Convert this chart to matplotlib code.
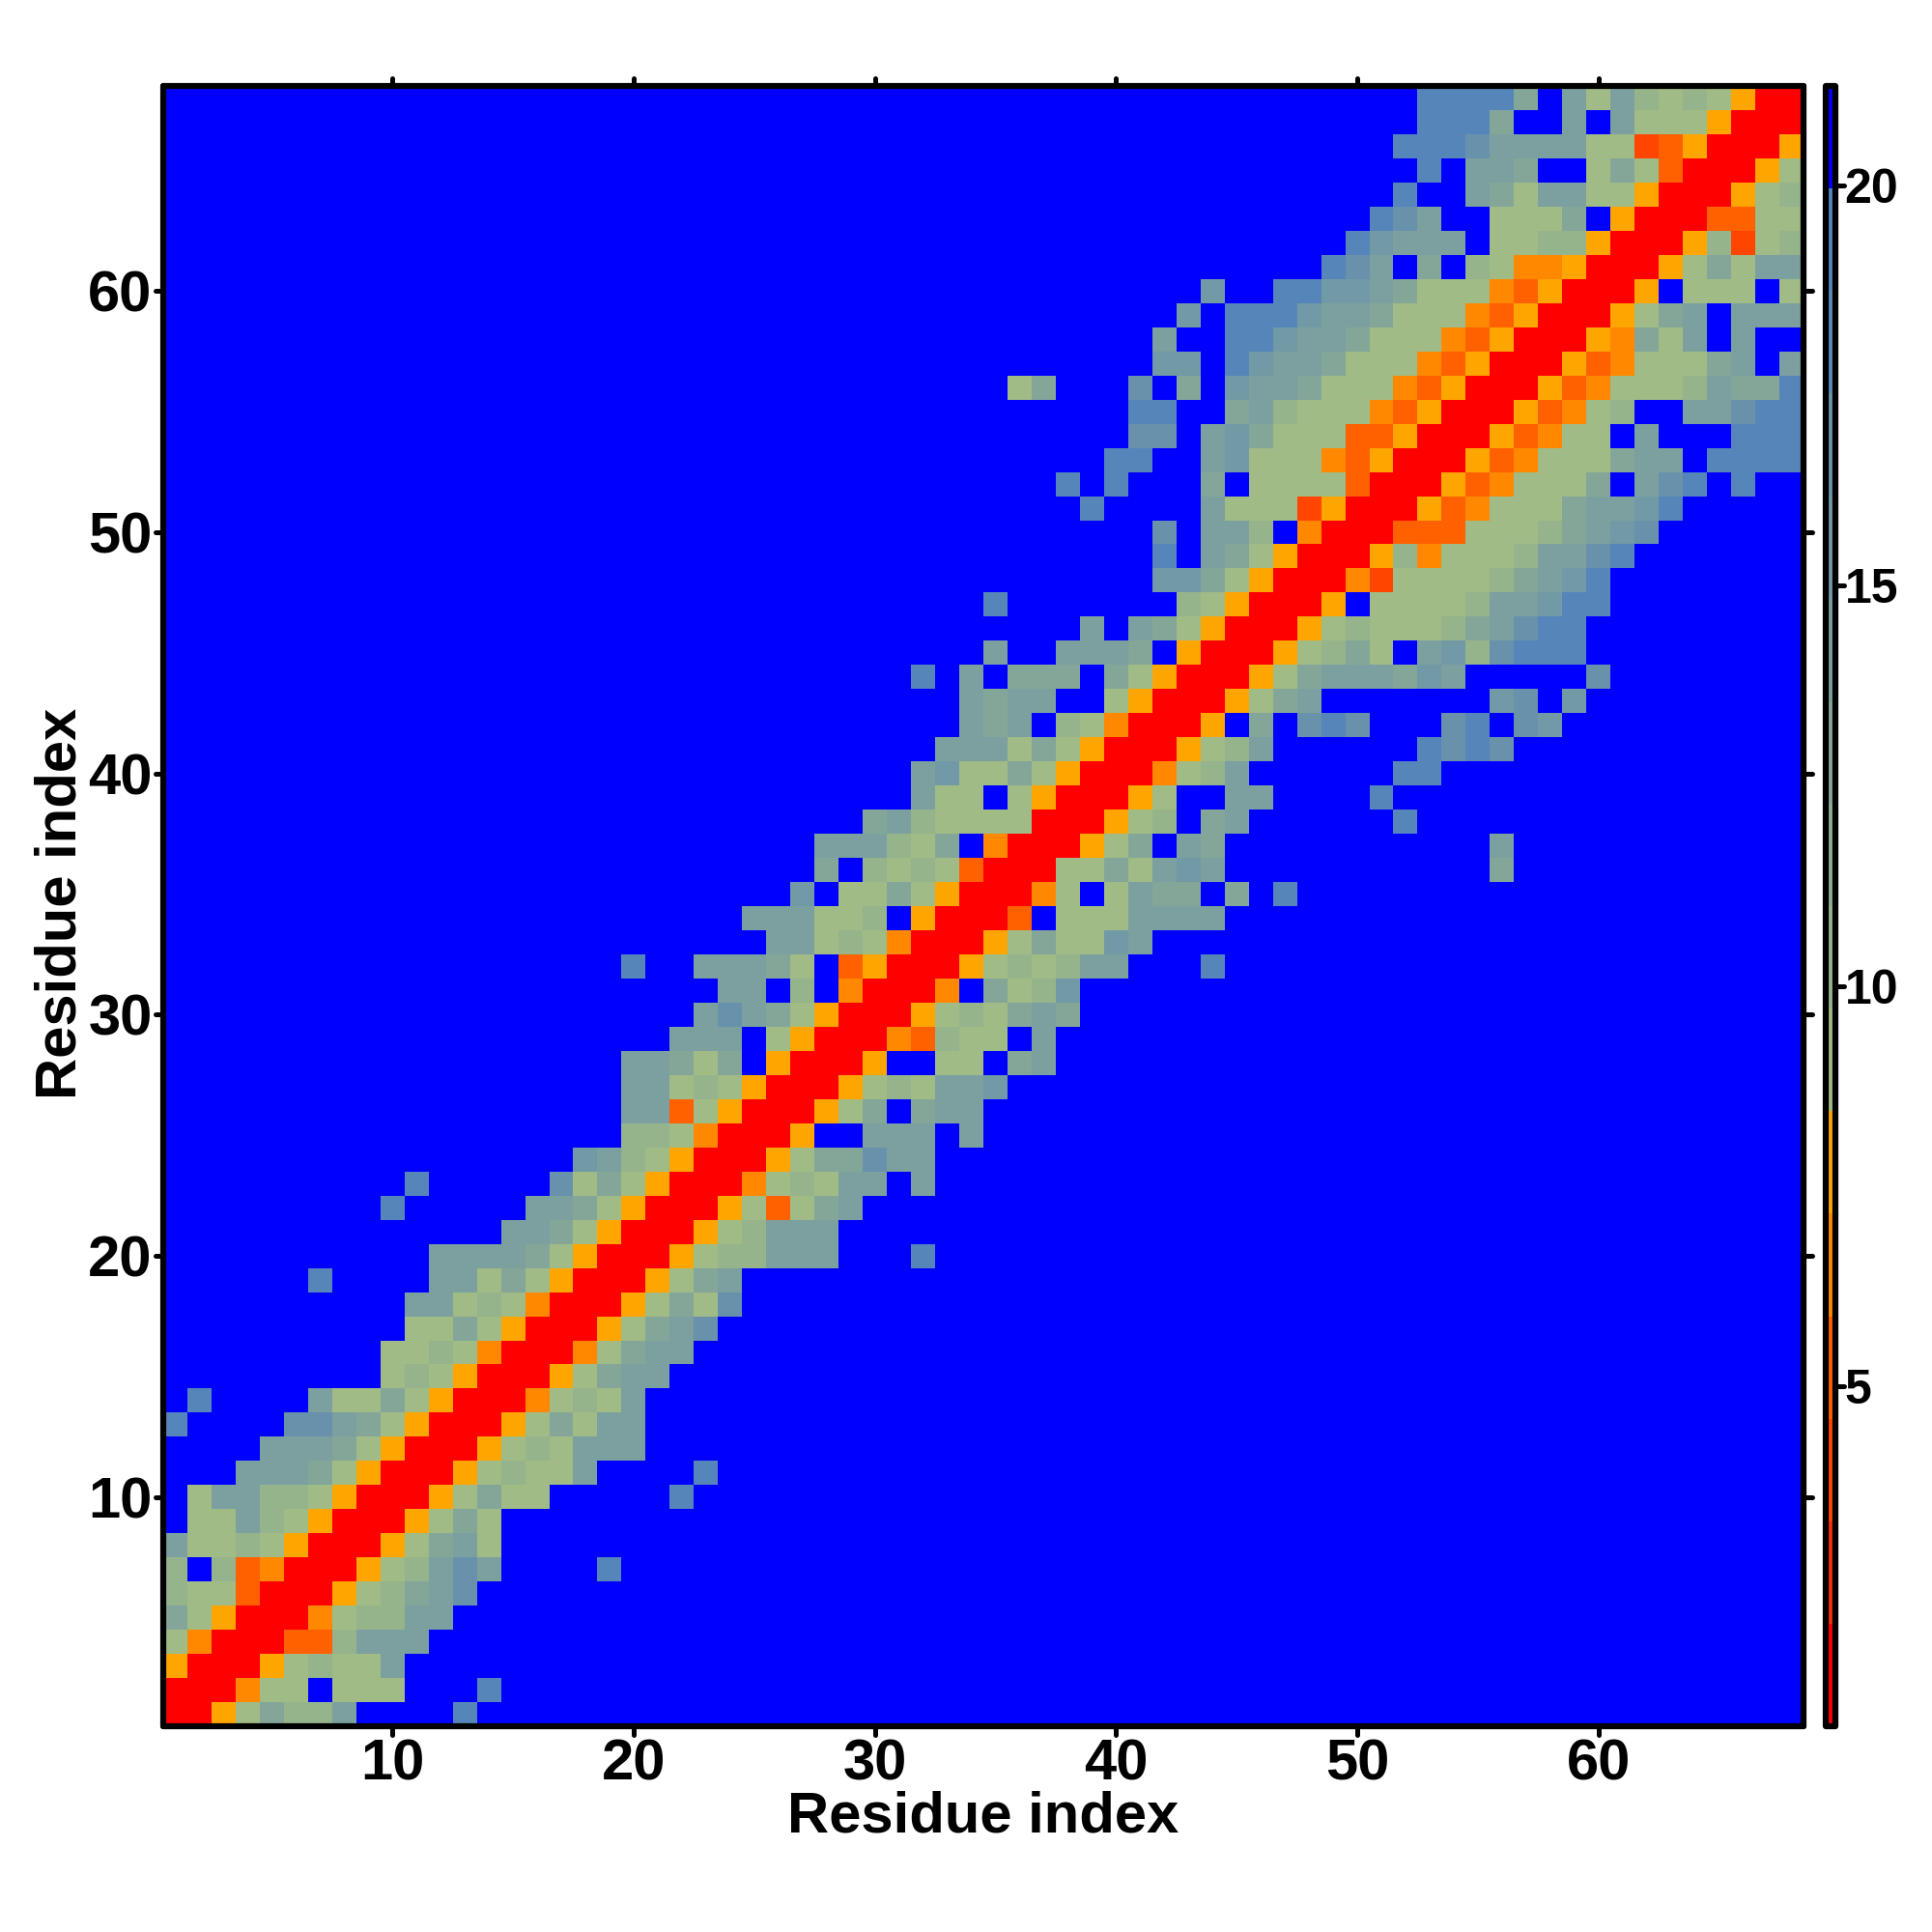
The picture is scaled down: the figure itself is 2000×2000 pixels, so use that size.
import numpy as np
import matplotlib
matplotlib.use("Agg")
import matplotlib.pyplot as plt
from matplotlib.colors import ListedColormap
from matplotlib.markers import MarkerStyle, TICKDOWN, TICKLEFT, TICKRIGHT, TICKUP

plt.rcParams["font.family"] = ["Liberation Sans", "DejaVu Sans"]
plt.rcParams["font.weight"] = "bold"

N_RES = 68
RES_TICKS = [10, 20, 30, 40, 50, 60]
BAR_TICKS = [5, 10, 15, 20]
VMIN, VMAX = 0.76, 21.24

# distance (in the colour bar's units) behind each letter used in the rows below
code_values = {
    ".": 21.0,
    "R": 1.4, "O": 4.0, "D": 5.2, "E": 6.5, "A": 7.8,
    "a": 9.1, "b": 10.4, "c": 12.9, "d": 14.2, "g": 15.5, "e": 16.8, "f": 19.3,
}

# per row: (first residue, codes from that residue on); anything not listed is "."
rows_01_17 = [
    [(1, "RRAacbbd"), (13, "f")],
    [(1, "RRREaa.aaa"), (14, "f")],
    [(1, "ARRRAabaad")],
    [(1, "aERRRDDbddd")],
    [(1, "caARRREabbdd")],
    [(1, "baaDRRRAabcde")],
    [(1, "b.bDERRRAabded"), (19, "f")],
    [(1, "daabaARRRAacda")],
    [(2, "aadbaARRRAaca")],
    [(2, "addbbaARRRAacaa"), (22, "f")],
    [(4, "dddcaARRRAabaad"), (23, "f")],
    [(5, "dddcaARRRAabaddd")],
    [(1, "f"), (6, "eedcaARRRAacadd")],
    [(2, "f"), (7, "daacaARRREabad")],
    [(10, "abaARRRAacdd")],
    [(10, "aabaERRREacdd")],
    [(11, "aacaARRRAacde")],
]
rows_18_34 = [
    [(11, "ddabaERRRAacae")],
    [(7, "f"), (12, "ddacaARRRAacd")],
    [(12, "ddddcaARRRAabbddd"), (32, "f")],
    [(15, "ddcaARRRAabddd")],
    [(10, "f"), (16, "ddcaARRRAaDacd")],
    [(11, "f"), (17, "eacaARRREabadd"), (32, "d")],
    [(18, "gdbaARRRAaccedd")],
    [(20, "bbaERRRA..ddd.d")],
    [(20, "ddDaARRRAac.cdd")],
    [(20, "ddabaARRRAabaddg")],
    [(20, "ddcac.ARRRA..aa.cd")],
    [(22, "ddd.aARRREDbaa.d")],
    [(23, "dedcaARRRAabacdc")],
    [(24, "dd.b.ERRRE.cabg")],
    [(20, "f"), (23, "dddca.DARRRAababdd"), (44, "f")],
    [(26, "ddabaERRRAacaagd")],
    [(25, "dddaab.ARRRD.aaadddd")],
]
rows_35_51 = [
    [(27, "g.aacaARRREa.adcc.c"), (47, "f")],
    [(28, "c.babaDRRRaacadgd"), (56, "c")],
    [(28, "dddbac.ERRRAac.dc"), (56, "d")],
    [(30, "cdbaaaaRRRAab.cd"), (52, "f")],
    [(32, "daa.aARRRAa..dd"), (51, "f")],
    [(32, "dgaacaARRREabd"), (52, "ff")],
    [(33, "dddacaARRRAabd"), (53, "fefe")],
    [(34, "dcd.baERRRA.c.efe"), (54, "ef.eg")],
    [(34, "dcdd..aARRRAacd"), (56, "ge.g")],
    [(32, "f"), (34, "d.ccc.caARRRAacdddcgd"), (60, "e")],
    [(35, "d..dddc.ARRRAabca.dgbefff")],
    [(39, "d.dcaARRRAabaaabcdeff")],
    [(35, "f"), (43, "baARRRA.aaaabddgff")],
    [(42, "ggcaARRREOaaaabcdgf")],
    [(42, "f"), (44, "dcaARRRAbEaaabddef")],
    [(42, "e"), (44, "ddb.ERRRDDDaaabcdge")],
    [(39, "f"), (44, "daaaOARRRADEaaacddgf")],
]
rows_52_68 = [
    [(38, "f"), (40, "f"), (44, "c.aaaaDRRRADEaaac.def.f")],
    [(40, "ff"), (44, "dgaaaEDARRRADEaaacdd.ffff")],
    [(41, "ee"), (44, "dgcaaaDDARRRADEaa.d...fff")],
    [(41, "ff"), (45, "cdbaaaEDARRRADEab..ddeff")],
    [(36, "ac"), (41, "e.c"), (45, "gddcaaaEDARRRADEaaabdccf")],
    [(42, "gg"), (45, "fgddcaaaEDARRRADEaaacd.d")],
    [(42, "d"), (45, "ffgddcaaaEDARRRAEcad.d")],
    [(43, "g"), (45, "fffgddcaaaEDARRRAacd.ddd")],
    [(44, "g"), (47, "ffggdcaaaEDARRRA.aaa.a")],
    [(49, "fed.c.baEEARRRAacadd")],
    [(50, "fgddd.aabbARRRAbOab")],
    [(51, "fed..aaac.ARRRDDaa")],
    [(52, "f..dcaddaaARRRAab")],
    [(53, "f.ddc..acaDRRRAa")],
    [(52, "fffeddddaaODARRRA")],
    [(53, "fffc..d.daaaARRR")],
    [(53, "ffffc.dadbabaARR")],
]

# colour bar is 16 flat steps, bottom to top
hot_colors = ["#ff0000", "#f53010", "#ff4500", "#ff6000", "#ff8800", "#ffa500"]
ramp = np.linspace((160, 187, 133), (86, 133, 186), 9) / 255
cmap = ListedColormap(hot_colors + [tuple(c) for c in ramp] + ["#0000ff"])

dist = np.full((N_RES, N_RES), code_values["."])
for r, segments in enumerate(rows_01_17 + rows_18_34 + rows_35_51 + rows_52_68):
    for first, codes in segments:
        for i, c in enumerate(codes):
            dist[r, first - 1 + i] = code_values[c]

PX = 1 / 2000
LW = 6.2 * 72 / 200
TICK_W = 5 * 72 / 200
TICK_L = 8.5 * 72 / 200

fig = plt.figure(figsize=(10, 10), dpi=200)
ax = fig.add_axes([169 * PX, 213 * PX, 1698 * PX, 1698 * PX])
cax = fig.add_axes([1889.5 * PX, 213 * PX, 11 * PX, 1698 * PX])

im = ax.imshow(dist, origin="lower", extent=(0.5, N_RES + 0.5, 0.5, N_RES + 0.5),
               cmap=cmap, vmin=VMIN, vmax=VMAX, aspect="auto", interpolation="nearest")
cb = fig.colorbar(im, cax=cax)
cb.set_ticks(BAR_TICKS)


def round_ticks(axis, marker1, marker2):
    for tick in axis.get_major_ticks():
        tick.tick1line.set_marker(MarkerStyle(marker1, capstyle="round"))
        tick.tick2line.set_marker(MarkerStyle(marker2, capstyle="round"))


ax.set_xticks(RES_TICKS)
ax.set_yticks(RES_TICKS)
ax.tick_params(axis="both", which="major", direction="out", length=TICK_L, width=TICK_W,
               top=True, right=True, labelsize=21.5, pad=1.5, colors="black")
ax.tick_params(axis="y", pad=1.0)
round_ticks(ax.xaxis, TICKDOWN, TICKUP)
round_ticks(ax.yaxis, TICKLEFT, TICKRIGHT)

cax.tick_params(axis="y", which="major", direction="out", length=TICK_L, width=TICK_W,
                labelsize=18, pad=0.2)
round_ticks(cax.yaxis, TICKLEFT, TICKRIGHT)

for a in (ax, cax):
    for sp in a.spines.values():
        sp.set_linewidth(LW)
        sp.set_capstyle("round")
        sp.set_joinstyle("round")
cb.outline.set_linewidth(LW)
cb.outline.set_joinstyle("round")

ax.set_xlabel("Residue index", fontsize=21.5, fontweight="bold")
ax.set_ylabel("Residue index", fontsize=21.5, fontweight="bold")
ax.xaxis.set_label_coords((1018 - 169) / 1698, -(1881 - 1787) / 1698)
ax.xaxis.label.set_verticalalignment("center")
ax.yaxis.set_label_coords(-(169 - 63) / 1698, (1787 - 935) / 1698)
ax.yaxis.label.set_verticalalignment("center")

fig.savefig("out.png", dpi=200, facecolor="white")
